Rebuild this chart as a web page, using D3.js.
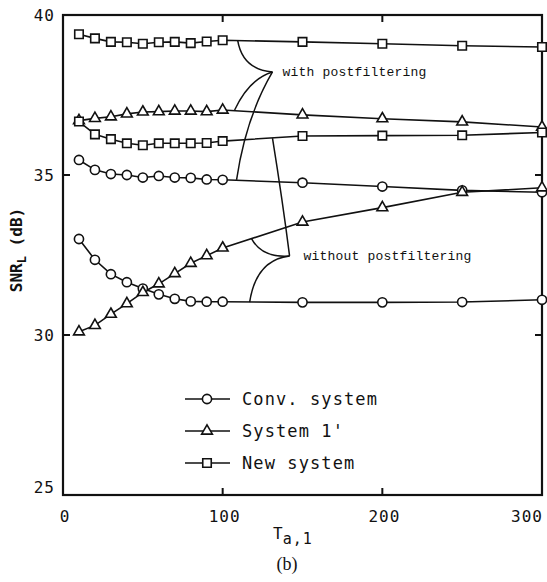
<!DOCTYPE html>
<html lang="en">
<head>
    <meta charset="UTF-8">
    <title>SNR chart</title>
    <style>
        body { margin: 0; background: #fff; }
        text { fill: #111; }
    </style>
</head>
<body>
    <div id="wrapper"></div>
    <script src="https://d3js.org/d3.v7.min.js"></script>
    <script>
        // x 值 (Ta,1)
        const xs = [10, 20, 30, 40, 50, 60, 70, 80, 90, 100, 150, 200, 250, 300];

        // 有后置滤波
        const convWith = [35.47, 35.16, 35.03, 35.0, 34.92, 34.97, 34.92, 34.91, 34.86, 34.85, 34.76, 34.64, 34.52, 34.46];
        const sys1With = [36.70, 36.77, 36.82, 36.91, 36.97, 36.98, 37.0, 37.0, 36.98, 37.03, 36.88, 36.76, 36.66, 36.50];
        const newWith = [39.40, 39.27, 39.16, 39.15, 39.10, 39.15, 39.16, 39.12, 39.17, 39.21, 39.16, 39.10, 39.04, 39.0];

        // 无后置滤波
        const convWithout = [33.0, 32.35, 31.9, 31.65, 31.45, 31.27, 31.13, 31.05, 31.04, 31.04, 31.02, 31.02, 31.03, 31.1];
        const sys1Without = [30.1, 30.3, 30.65, 30.98, 31.33, 31.6, 31.92, 32.24, 32.48, 32.72, 33.53, 33.98, 34.46, 34.6];
        const newWithout = [36.67, 36.27, 36.12, 35.99, 35.93, 35.99, 35.99, 35.99, 36.0, 36.06, 36.22, 36.23, 36.24, 36.33];

        const xTicks = [0, 100, 200, 300];
        const yTicks = [25, 30, 35, 40];
        const legendNames = ["Conv. system", "System 1'", "New system"];

        const width = 547, height = 582;
        const margin = { top: 15, right: 5, bottom: 87, left: 63 };

        const svg = d3.select('#wrapper').append('svg')
            .attr('width', width)
            .attr('height', height);

        const x = d3.scaleLinear().domain([0, 300]).range([margin.left, width - margin.right]);
        const y = d3.scaleLinear().domain([25, 40]).range([height - margin.bottom, margin.top]);

        const mono = 'DejaVu Sans Mono, monospace';

        // 坐标框
        svg.append('rect')
            .attr('x', x(0)).attr('y', y(40))
            .attr('width', x(300) - x(0)).attr('height', y(25) - y(40))
            .attr('fill', 'none').attr('stroke', '#111').attr('stroke-width', 2.2);

        // 内刻度
        const tl = 7;
        [100, 200].forEach(v => {
            svg.append('line').attr('x1', x(v)).attr('x2', x(v)).attr('y1', y(25)).attr('y2', y(25) - tl)
                .attr('stroke', '#111').attr('stroke-width', 2);
            svg.append('line').attr('x1', x(v)).attr('x2', x(v)).attr('y1', y(40)).attr('y2', y(40) + tl)
                .attr('stroke', '#111').attr('stroke-width', 2);
        });
        [30, 35].forEach(v => {
            svg.append('line').attr('x1', x(0)).attr('x2', x(0) + tl).attr('y1', y(v)).attr('y2', y(v))
                .attr('stroke', '#111').attr('stroke-width', 2);
            svg.append('line').attr('x1', x(300)).attr('x2', x(300) - tl).attr('y1', y(v)).attr('y2', y(v))
                .attr('stroke', '#111').attr('stroke-width', 2);
        });

        // 刻度文字
        svg.selectAll('.xt').data(xTicks).enter().append('text')
            .attr('x', d => d === 300 ? x(d) + 1 : x(d) + 2)
            .attr('y', y(25) + 27)
            .attr('text-anchor', d => d === 300 ? 'end' : 'middle')
            .attr('font-family', mono).attr('font-size', 16).attr('letter-spacing', 1)
            .text(d => d);

        svg.selectAll('.yt').data(yTicks).enter().append('text')
            .attr('x', x(0) - 8)
            .attr('y', d => d === 25 ? y(d) - 2 : y(d) + 6)
            .attr('text-anchor', 'end')
            .attr('font-family', mono).attr('font-size', 16).attr('letter-spacing', 1)
            .text(d => d);

        // 轴标题
        const yl = svg.append('text')
            .attr('transform', `translate(22, 250) rotate(-90)`)
            .attr('text-anchor', 'middle')
            .attr('font-family', mono).attr('font-size', 16).attr('font-weight', 'bold');
        yl.append('tspan').text('SNR');
        yl.append('tspan').attr('dy', 4).attr('font-size', 12).text('L');
        yl.append('tspan').attr('dy', -4).text(' (dB)');

        const xl = svg.append('text')
            .attr('x', 273).attr('y', 539)
            .attr('font-family', mono).attr('font-size', 16);
        xl.append('tspan').text('T');
        xl.append('tspan').attr('dy', 5).attr('font-size', 15).attr('letter-spacing', 1).text('a,1');

        svg.append('text')
            .attr('x', 287).attr('y', 570)
            .attr('text-anchor', 'middle')
            .attr('font-family', 'Liberation Serif, serif').attr('font-size', 18)
            .text('(b)');

        // 曲线
        const line = d3.line().x(d => x(d[0])).y(d => y(d[1]));
        const sym = {
            circle: d3.symbol().type(d3.symbolCircle).size(66),
            triangle: d3.symbol().type(d3.symbolTriangle).size(50),
            square: d3.symbol().type(d3.symbolSquare).size(72)
        };
        const series = [
            { v: convWith, s: 'circle' },
            { v: sys1With, s: 'triangle' },
            { v: newWith, s: 'square' },
            { v: convWithout, s: 'circle' },
            { v: sys1Without, s: 'triangle' },
            { v: newWithout, s: 'square' }
        ];

        series.forEach(sr => {
            const pts = xs.map((d, i) => [d, sr.v[i]]);
            svg.append('path').attr('d', line(pts))
                .attr('fill', 'none').attr('stroke', '#111').attr('stroke-width', 1.6);
        });
        series.forEach(sr => {
            const pts = xs.map((d, i) => [d, sr.v[i]]);
            svg.selectAll(null).data(pts).enter().append('path')
                .attr('d', sym[sr.s]())
                .attr('transform', d => `translate(${x(d[0])},${y(d[1])})`)
                .attr('fill', '#fff').attr('stroke', '#111').attr('stroke-width', 1.6);
        });

        // 注释括线 (数据坐标: 起点, 控制点, 终点)
        const tipWith = [131.2, 38.22];
        const tipWithout = [141.9, 32.47];
        const braces = [
            [[109.4, 39.21], [112.5, 38.3], tipWith],
            [[107.5, 37.03], [116.5, 38.0], tipWith],
            [[108.7, 34.85], [114.5, 36.8], tipWith],
            [[131.2, 36.15], [137.5, 34.2], tipWithout],
            [[118.0, 33.02], [124.5, 32.4], tipWithout],
            [[116.9, 31.03], [121.0, 32.35], tipWithout]
        ];
        braces.forEach(b => {
            const p = d3.path();
            p.moveTo(x(b[0][0]), y(b[0][1]));
            p.quadraticCurveTo(x(b[1][0]), y(b[1][1]), x(b[2][0]), y(b[2][1]));
            svg.append('path').attr('d', p.toString())
                .attr('fill', 'none').attr('stroke', '#111').attr('stroke-width', 1.5);
        });

        svg.append('text')
            .attr('x', x(tipWith[0]) + 10).attr('y', y(tipWith[1]) + 4)
            .attr('font-family', 'Liberation Mono, monospace').attr('font-size', 13)
            .attr('letter-spacing', 0.2)
            .text('with postfiltering');
        svg.append('text')
            .attr('x', x(tipWithout[0]) + 14).attr('y', y(tipWithout[1]) + 4)
            .attr('font-family', 'Liberation Mono, monospace').attr('font-size', 13)
            .attr('letter-spacing', 0.2)
            .text('without postfiltering');

        // 图例
        const legend = svg.append('g');
        legendNames.forEach((name, i) => {
            const ly = 399 + i * 32;
            const s = ['circle', 'triangle', 'square'][i];
            legend.append('line').attr('x1', 185).attr('x2', 230).attr('y1', ly).attr('y2', ly)
                .attr('stroke', '#111').attr('stroke-width', 1.6);
            legend.append('path').attr('d', sym[s]())
                .attr('transform', `translate(207,${ly})`)
                .attr('fill', '#fff').attr('stroke', '#111').attr('stroke-width', 1.6);
            legend.append('text')
                .attr('x', 242).attr('y', ly + 6)
                .attr('font-family', mono).attr('font-size', 17).attr('letter-spacing', 1.1)
                .text(name);
        });
    </script>
</body>
</html>
